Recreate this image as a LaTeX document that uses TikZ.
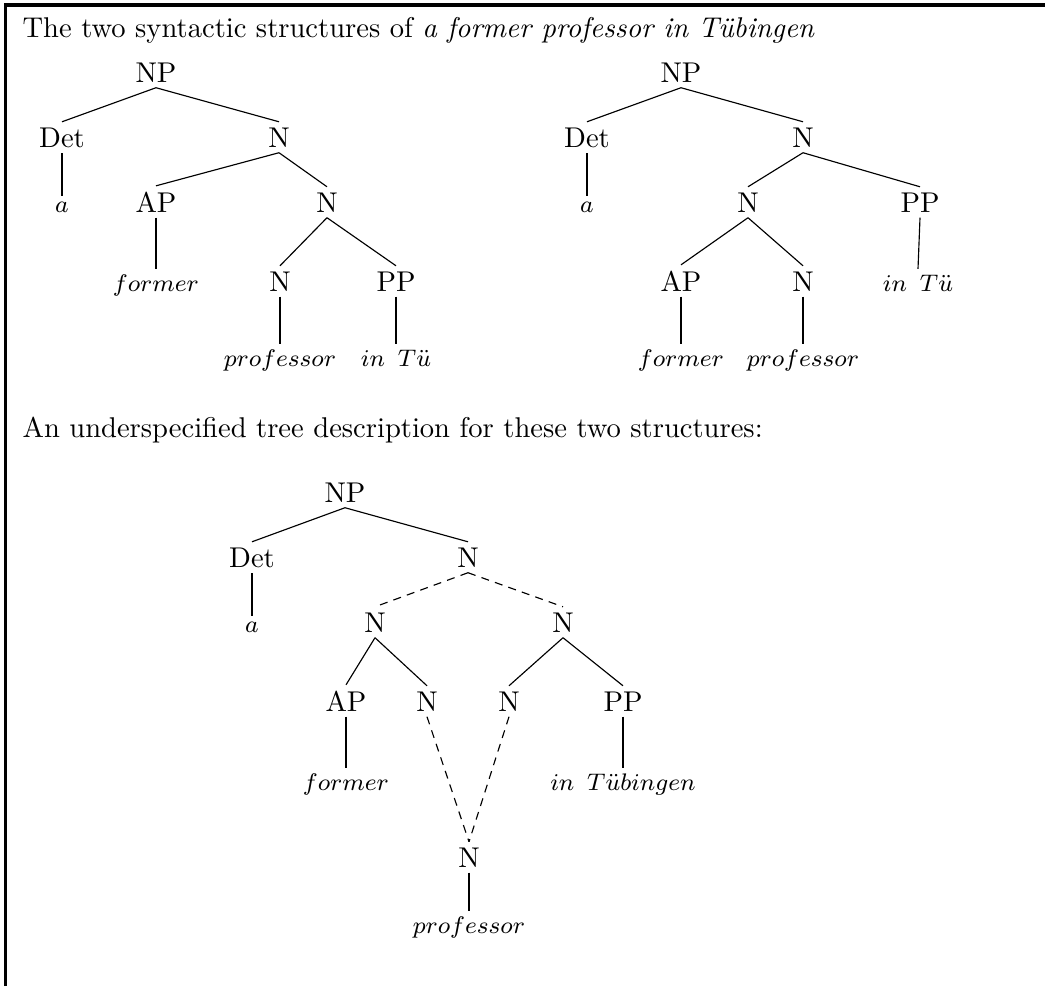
\documentclass[tikz,border=0pt]{standalone}
\usepackage{fix-cm}
\usepackage{amsmath}
\usetikzlibrary{positioning}

\newcommand{\leafsize}{\fontsize{8.4}{10}\selectfont}

\begin{document}
\begin{tikzpicture}[x=0.35pt, y=-0.35pt, every node/.style={anchor=base, inner sep=1.8pt, font=\leafsize}, weak/.style={dashed, dash pattern=on 2.8pt off 2.2pt}, cat/.style={font=\normalsize}]

\useasboundingbox (0,0) rectangle (1045,986);

% Rahmen (oben und links)
\draw[line width=1.2pt] (5.5,986) -- (5.5,5) -- (1045,5);

% Texte
\node[cat, anchor=base west, inner sep=0pt] (title1) at (22,37) {The two syntactic structures of \textit{a former professor in T\"ubingen}};
\node[cat, anchor=base west, inner sep=0pt] (title2) at (22,437) {An underspecified tree description for these two structures:};

% Baum 1
\foreach \nm/\x/\y/\lab in {
  anp/156/82/NP, adet/62/147/Det, an1/279/147/N,
  aap/156/212/AP, an2/327/212/N,
  an3/280/291/N, app/396/291/PP
} {
  \node[cat] (\nm) at (\x,\y) {\lab};
}
\foreach \nm/\x/\y/\lab in {
  aa/62/212/a, aformer/156/291/former,
  aprof/280/366/professor, atue/396/366/in\ \,T\ddot{u}
} {
  \node (\nm) at (\x,\y) {$\lab$};
}
\foreach \p/\c in {anp/adet, anp/an1, adet/aa, an1/aap, an1/an2,
  aap/aformer, an2/an3, an2/app, an3/aprof, app/atue} {
  \draw (\p.south) -- (\c.north);
}

% Baum 2
\foreach \nm/\x/\y/\lab in {
  bnp/681/82/NP, bdet/587/147/Det, bn1/803/147/N,
  bn2/748/212/N, bpp/920/212/PP,
  bap/681/291/AP, bn3/803/291/N
} {
  \node[cat] (\nm) at (\x,\y) {\lab};
}
\foreach \nm/\x/\y/\lab in {
  ba/587/212/a, btue/918/291/in\ \,T\ddot{u},
  bformer/681/366/former, bprof/803/366/professor
} {
  \node (\nm) at (\x,\y) {$\lab$};
}
\foreach \p/\c in {bnp/bdet, bnp/bn1, bdet/ba, bn1/bn2, bn1/bpp,
  bn2/bap, bn2/bn3, bpp/btue, bap/bformer, bn3/bprof} {
  \draw (\p.south) -- (\c.north);
}

% Baum 3 (unterspezifiziert)
\foreach \nm/\x/\y/\lab in {
  cnp/345/502/NP, cdet/252/567/Det, cn1/468/567/N,
  cn2/375/632/N, cn3/563/632/N,
  cap/346/711/AP, cn4/427/711/N, cn5/509/711/N, cpp/623/711/PP,
  cn6/469/867/N
} {
  \node[cat] (\nm) at (\x,\y) {\lab};
}
\foreach \nm/\x/\y/\lab in {
  ca/252/632/a, cformer/346/790/former,
  ctue/623/790/in\ \,T\ddot{u}bingen, cprof/469/933/professor
} {
  \node (\nm) at (\x,\y) {$\lab$};
}
\foreach \p/\c in {cnp/cdet, cnp/cn1, cdet/ca, cn2/cap, cn2/cn4,
  cn3/cn5, cn3/cpp, cap/cformer, cpp/ctue, cn6/cprof} {
  \draw (\p.south) -- (\c.north);
}
% Dominanz (gestrichelt)
\foreach \p/\c in {cn1/cn2, cn1/cn3, cn4/cn6, cn5/cn6} {
  \draw[weak] (\p.south) -- (\c.north);
}
\end{tikzpicture}
\end{document}
